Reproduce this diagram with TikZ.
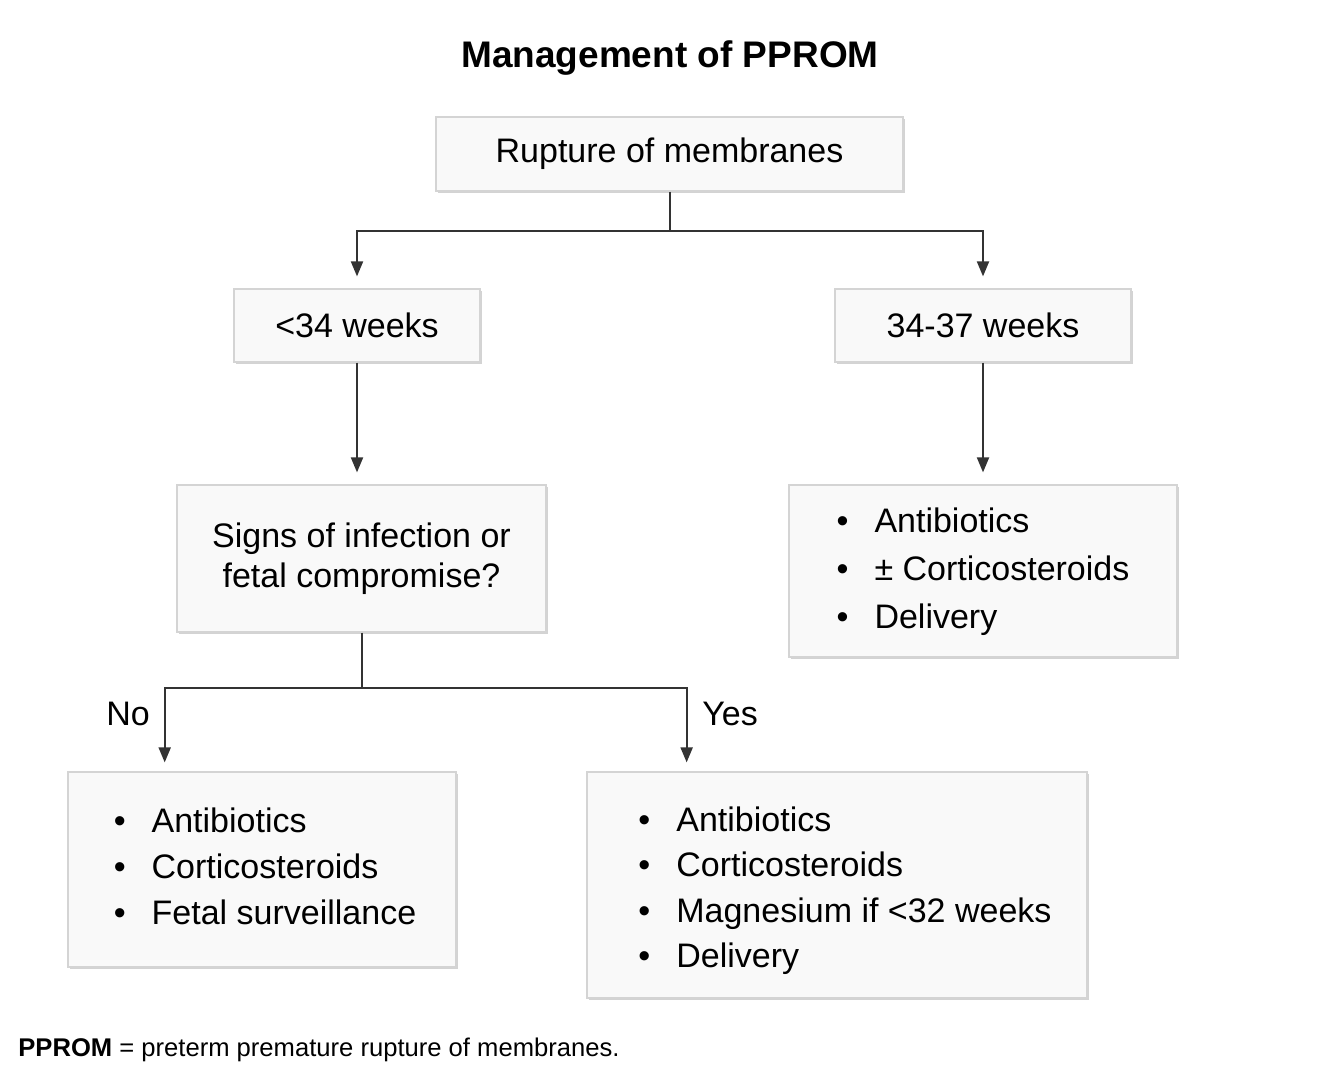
\documentclass[tikz,border=0pt]{standalone}
\usepackage{fontspec}
\setmainfont{Liberation Sans}
\usetikzlibrary{arrows.meta,shadows,calc}

\definecolor{boxfill}{HTML}{F9F9F9}
\definecolor{boxline}{HTML}{D4D4D4}
\definecolor{linkgray}{HTML}{333333}

\newcommand{\steplist}[2][23]{%
  {\fontsize{17}{#1}\selectfont
  \begin{tabular}{@{}l@{\hspace{13pt}}l@{}}#2\end{tabular}}}

\begin{document}
\begin{tikzpicture}[x=0.5pt, y=-0.5pt,
    box/.style={draw=boxline, fill=boxfill, line width=0.6pt, inner sep=0pt,
        drop shadow={shadow xshift=1pt, shadow yshift=-1.2pt, opacity=0.35},
        font=\fontsize{17}{20}\selectfont, align=center},
    link/.style={draw=linkgray, line width=1pt},
    arr/.style={link, -{Triangle[length=7.5pt, width=6pt]}, shorten >=6pt},
    lbl/.style={font=\fontsize{17}{20}\selectfont, inner sep=0pt}]
    \useasboundingbox (0,0) rectangle (1338,1074);

    % Title
    \node[font=\bfseries\fontsize{18.5}{22}\selectfont] (title) at (670,58) {Management of PPROM};

    % Boxes
    \node[box, minimum width=233.5pt, minimum height=37pt] (root) at (669.5,154) {Rupture of membranes};
    \node[box, minimum width=123pt, minimum height=36.5pt] (lt34) at (357,325.5) {<34 weeks};
    \node[box, minimum width=148pt, minimum height=36.5pt] (wk3437) at (983,325.5) {34-37 weeks};
    \node[box, minimum width=184.5pt, minimum height=73.5pt] (signs) at (361.5,558.5)
        {Signs of infection or\\fetal compromise?};
    \node[box, minimum width=194pt, minimum height=86pt] (late) at (983,571)
        {\steplist[24]{\textbullet & Antibiotics\\ \textbullet & ± Corticosteroids\\ \textbullet & Delivery}};
    \node[box, minimum width=194pt, minimum height=97.5pt] (nobox) at (262,869.5)
        {\hspace*{3pt}\steplist{\textbullet & Antibiotics\\ \textbullet & Corticosteroids\\ \textbullet & Fetal surveillance}};
    \node[box, minimum width=250pt, minimum height=113pt] (yesbox) at (837,885)
        {\hspace*{8pt}\steplist[22.75]{\textbullet & \rule{0pt}{21.5pt}Antibiotics\\ \textbullet & Corticosteroids\\ \textbullet & Magnesium if <32 weeks\\ \textbullet & Delivery}};

    % Connectors
    \coordinate (split) at (669.5,231);
    \draw[link] (root.south) -- (split);
    \draw[arr] (split) -| (lt34.north);
    \draw[arr] (split) -| (wk3437.north);
    \draw[arr] (lt34.south) -- (lt34.south |- signs.north);
    \draw[arr] (wk3437.south) -- (late.north);

    \coordinate (split2) at (361.5,688);
    \draw[link] (signs.south) -- (split2);
    \draw[arr, shorten >=4.5pt] (split2) -| ($(nobox.north west)!0.25!(nobox.north east)$);
    \draw[arr, shorten >=4.5pt] (split2) -| ($(yesbox.north west)!0.2!(yesbox.north east)$);
    \node[lbl] (nolabel) at (128,714) {No};
    \node[lbl] (yeslabel) at (730,714) {Yes};

    % Footnote
    \node[anchor=west, inner sep=0pt, font=\fontsize{12.8}{15}\selectfont] (note) at (18,1050)
        {\textbf{PPROM} = preterm premature rupture of membranes.};
\end{tikzpicture}
\end{document}
